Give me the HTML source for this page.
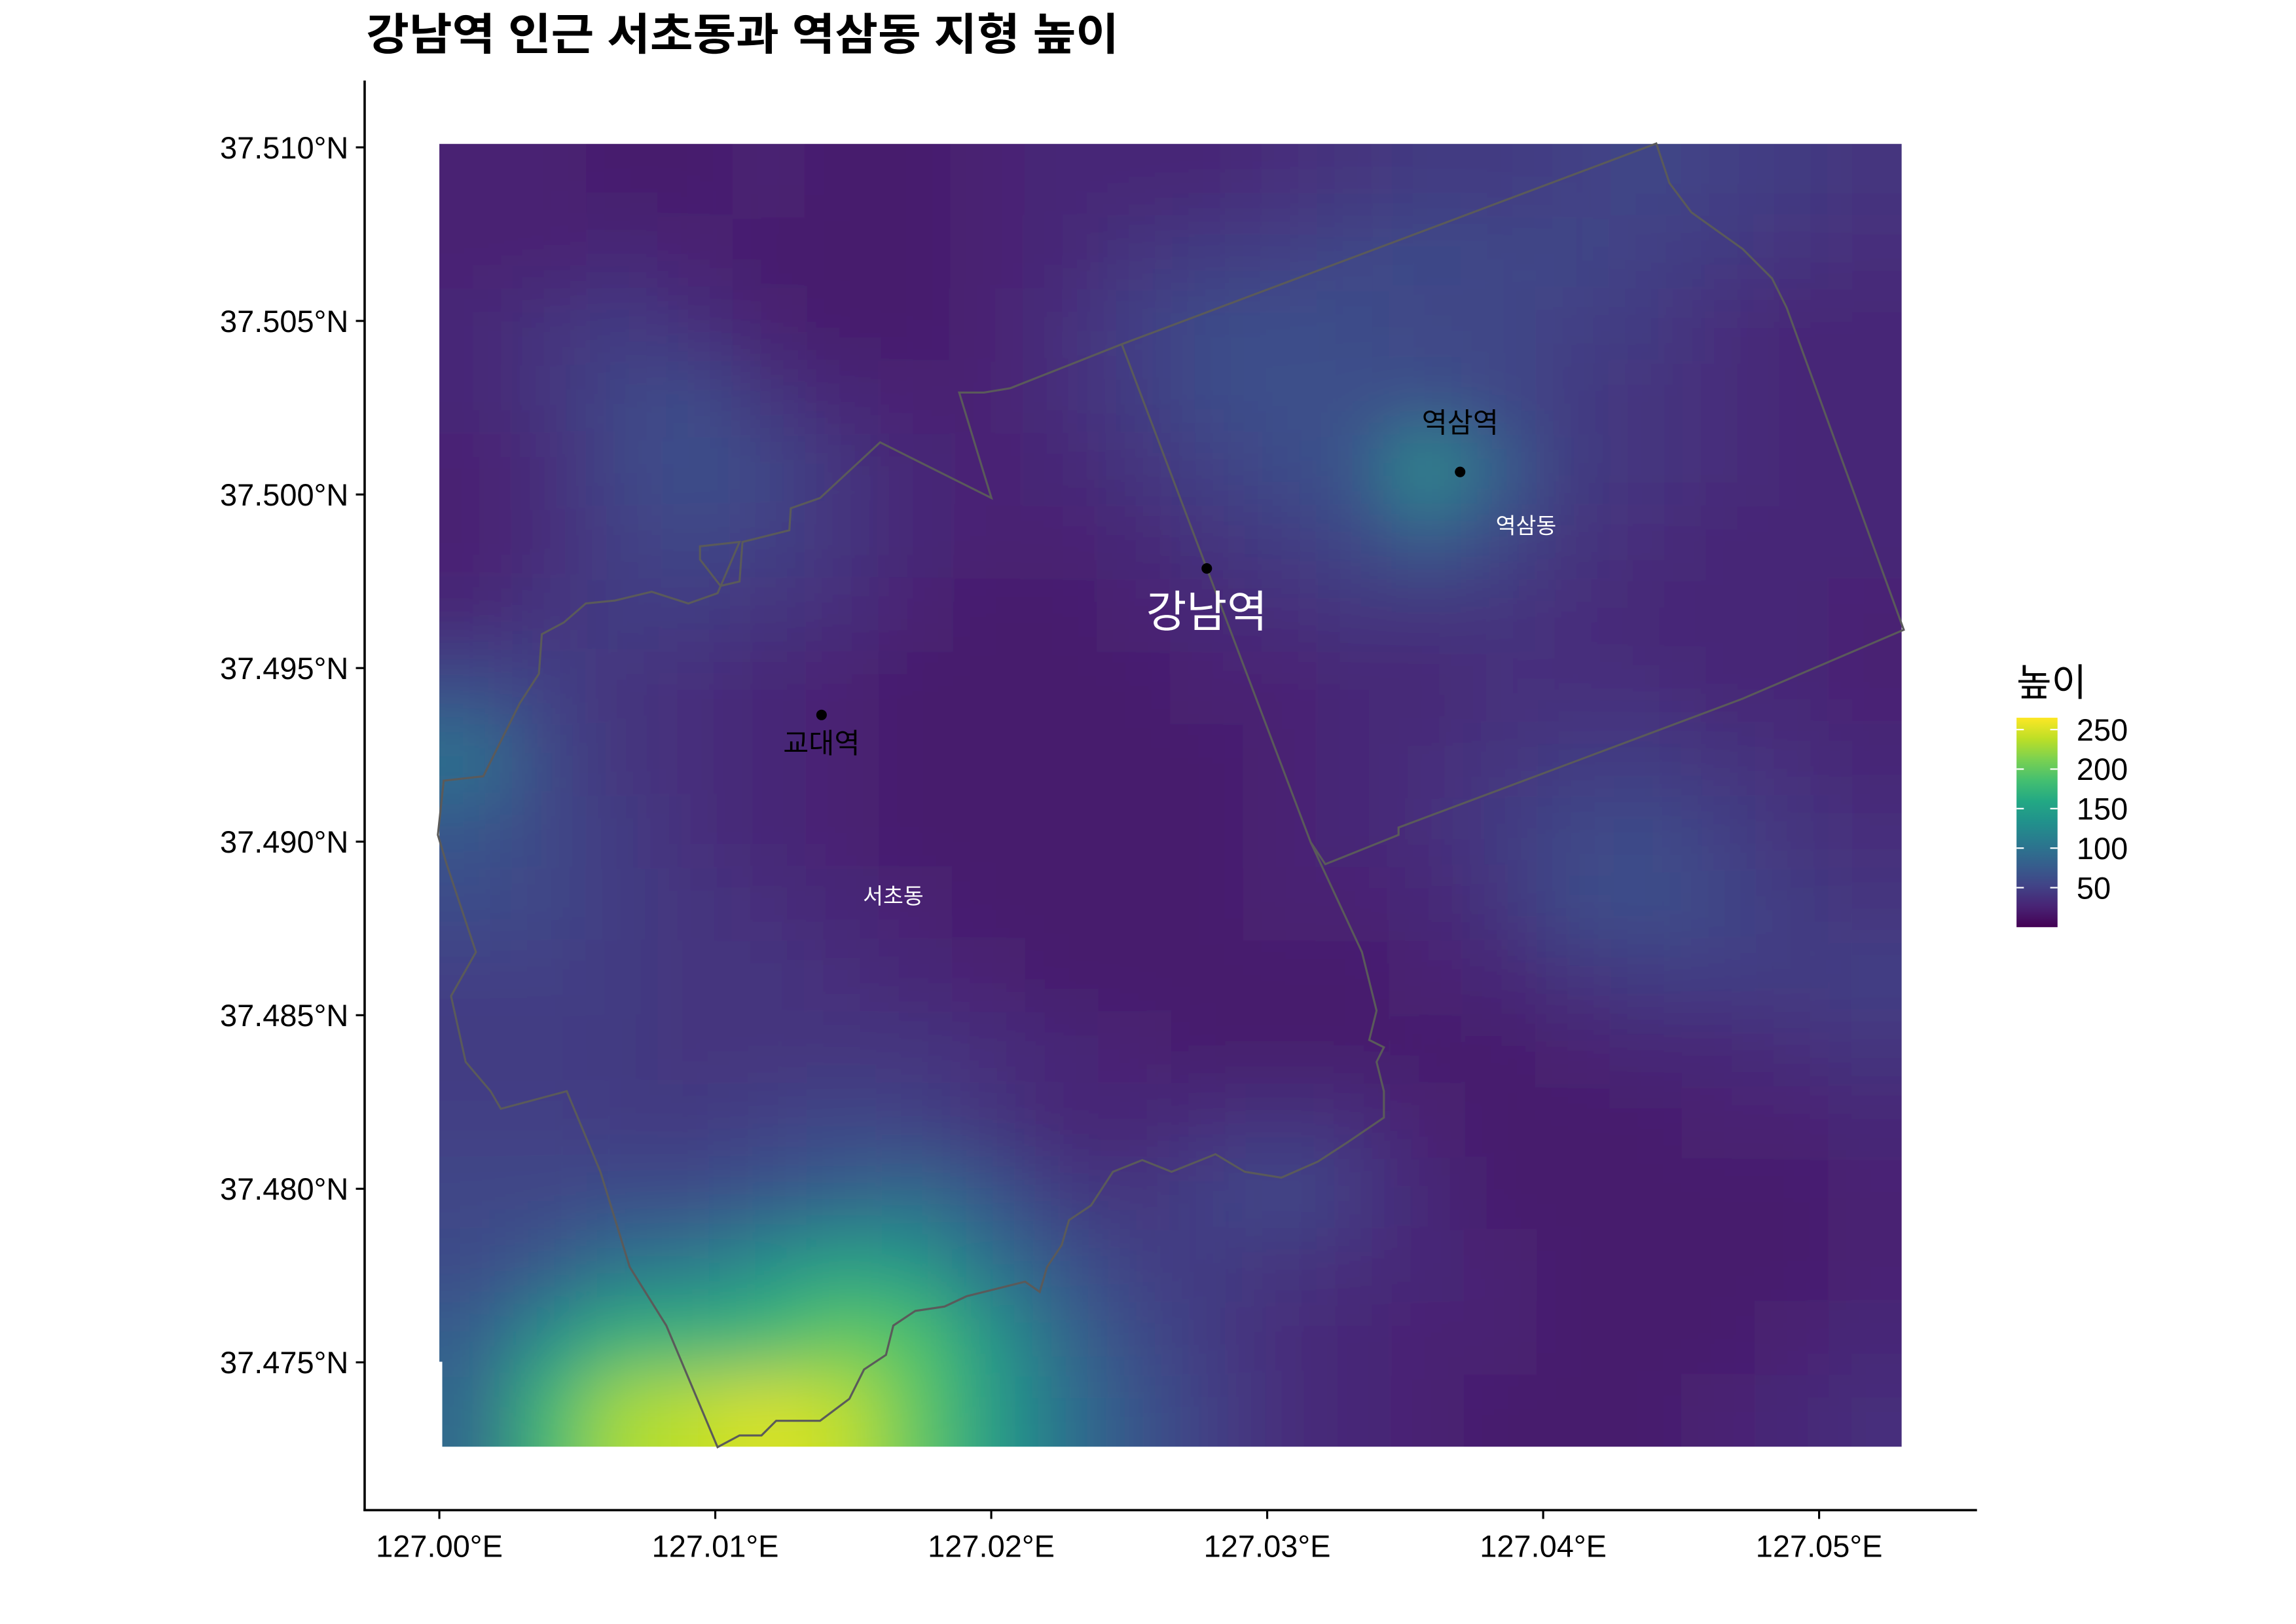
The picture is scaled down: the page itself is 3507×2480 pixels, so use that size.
<!DOCTYPE html>
<html><head><meta charset="utf-8">
<style>
html,body{margin:0;padding:0;background:#fff;}
svg{display:block;}
text{font-family:"Liberation Sans","Noto Sans CJK KR",sans-serif;}
</style></head>
<body>
<svg id="chart" width="3507" height="2480" viewBox="0 0 1560 1103.2" preserveAspectRatio="none" xmlns="http://www.w3.org/2000/svg">
<defs>
<filter id="blur" x="-10%" y="-10%" width="120%" height="120%"><feGaussianBlur stdDeviation="24" edgeMode="duplicate"/></filter>
<clipPath id="rasterClip"><path id="clipPath" d=""/></clipPath>
<linearGradient id="viridisGrad" x1="0" y1="1" x2="0" y2="0"></linearGradient>
</defs>
<rect width="1560" height="1103.2" fill="#fff"/>
<g transform="scale(0.995)">
<text x="250" y="34" font-size="30" font-weight="bold" fill="#000" textLength="514" lengthAdjust="spacingAndGlyphs">강남역 인근 서초동과 역삼동 지형 높이</text>
<g id="raster" clip-path="url(#rasterClip)"><g id="cells" filter="url(#blur)"></g></g>
<g id="bounds"></g>
<g id="points"></g>
<g id="axes"></g>
<g id="legend"></g>
</g>
</svg>
<script>
// ---- data ----
const lonMin = 127.0, lonMax = 127.05299, latMax = 37.5101, latMin = 37.47257;
const xTicks = [127.00, 127.01, 127.02, 127.03, 127.04, 127.05];
const xTickLabels = ["127.00°E","127.01°E","127.02°E","127.03°E","127.04°E","127.05°E"];
const yTicks = [37.510, 37.505, 37.500, 37.495, 37.490, 37.485, 37.480, 37.475];
const yTickLabels = ["37.510°N","37.505°N","37.500°N","37.495°N","37.490°N","37.485°N","37.480°N","37.475°N"];
const legendTicks = [250, 200, 150, 100, 50];
const elevation = [
[25,25,20,20,25,20,20,25,30,30,30,35,40,45,45,50,55,50,45,40],
[25,25,30,25,20,20,20,25,30,40,45,50,55,60,55,55,50,45,40,35],
[30,40,45,35,25,20,20,25,35,50,60,65,60,55,55,50,45,35,30,30],
[30,40,55,60,40,30,25,25,35,45,60,65,65,65,55,45,40,35,30,30],
[25,35,55,65,55,40,30,25,30,40,50,60,70,130,80,45,40,35,30,30],
[25,35,50,55,50,40,30,25,25,30,40,45,55,75,55,40,35,30,30,30],
[30,40,45,45,40,35,25,20,20,25,30,35,40,40,40,35,30,30,30,25],
[60,50,40,35,30,25,20,20,20,20,25,25,30,30,35,35,35,30,30,25],
[100,55,40,35,30,25,20,20,20,20,20,25,30,35,40,45,45,40,35,30],
[70,55,45,35,30,25,20,20,20,20,20,25,30,35,45,55,60,50,40,35],
[60,55,45,40,35,30,25,20,20,20,20,25,25,30,40,60,65,55,45,40],
[50,50,45,40,40,35,30,25,20,20,20,20,20,25,30,40,45,50,45,50],
[45,45,45,40,40,40,40,35,30,25,20,20,20,20,20,25,30,30,35,40],
[50,50,45,45,50,55,50,40,30,30,35,40,35,25,20,20,20,25,25,30],
[55,55,60,60,70,80,90,70,45,40,50,60,45,30,20,20,20,20,20,25],
[60,75,100,110,130,150,140,100,70,50,45,40,35,30,25,20,20,20,20,25],
[80,130,170,170,180,200,190,140,90,60,45,35,30,25,25,20,20,20,25,30],
[90,180,230,240,250,240,200,150,100,70,50,35,30,25,20,20,20,25,30,35]
];
const stationNames = ["강남역","역삼역","교대역"];
const stationLon = [127.02781, 127.03699, 127.01385];
const stationLat = [37.49787, 37.50065, 37.49365];
const dongNames = ["역삼동","서초동"];
const dongLon = [127.03938, 127.01645];
const dongLat = [37.49909, 37.48842];
// boundary outlines (reference-display units)
const yeoksamBoundary = [[766,235],[1131,98],[1140,125],[1155,145],[1190,170],[1210,190],[1220,210],[1300,430],[1190,477],[955,565],[955,570],[905,590],[895,575],[766,235]];
const seochoBoundary = [[766,235],[690,265],[672,268],[655,268],[677,340],[623,313],[601,302],[560,340],[540,347],[539,362],[507,370],[505,397],[492,400],[478,382],[478,373],[505,370],[490,405],[470,412],[445,404],[420,410],[400,412],[385,425],[370,433],[368,460],[355,480],[345,500],[330,530],[303,533],[299,570],[305,590],[315,620],[325,650],[308,680],[318,725],[335,745],[342,757],[387,745],[410,800],[430,865],[455,905],[490,988],[505,980],[520,980],[530,970],[560,970],[580,955],[590,935],[605,925],[610,905],[625,895],[645,892],[660,885],[680,880],[700,875],[710,882],[715,865],[725,850],[730,833],[745,823],[760,800],[780,792],[800,800],[830,788],[850,800],[875,804],[900,793],[920,780],[945,763],[945,745],[940,725],[945,715],[935,710],[940,690],[930,650],[895,575]];

// ---- scales ----
const X = lon => 300 + (lon - 127.0) * 18844;
const Y = lat => 100.6 + (37.510 - lat) * 23700;
const NS = "http://www.w3.org/2000/svg";
const vStops = ["#440154","#482475","#414487","#355f8d","#2a788e","#21918c","#22a884","#44bf70","#7ad151","#bddf26","#fde725"];
const vMin = 0, vMax = 265;
function hex(c){return [1,3,5].map(i=>parseInt(c.substr(i,2),16));}
function viridis(v){
  let t = Math.max(0, Math.min(1, (v - vMin) / (vMax - vMin))) * 10;
  let i = Math.min(9, Math.floor(t)), f = t - i;
  let a = hex(vStops[i]), b = hex(vStops[i+1]);
  return "rgb(" + a.map((c,k)=>Math.round(c + (b[k]-c)*f)).join(",") + ")";
}
function el(tag, attrs, parent){const e=document.createElementNS(NS,tag);for(const k in attrs)e.setAttribute(k,attrs[k]);parent.appendChild(e);return e;}

// raster
const rx0 = X(lonMin), rx1 = X(lonMax), ry0 = Y(latMax), ry1 = Y(latMin);
document.getElementById("clipPath").setAttribute("d",
  `M${rx0},${ry0}H${rx1}V${ry1}H${rx0+2}V${ry1-58}H${rx0}Z`);
const cells = document.getElementById("cells");
const nr = elevation.length, nc = elevation[0].length;
const cw = (rx1 - rx0) / nc, ch = (ry1 - ry0) / nr;
for (let r = 0; r < nr; r++) for (let c = 0; c < nc; c++) {
  const x = rx0 + c*cw - (c===0?60:0), y = ry0 + r*ch - (r===0?60:0);
  const w = cw + 0.8 + (c===0?60:0) + (c===nc-1?60:0), h = ch + 0.8 + (r===0?60:0) + (r===nr-1?60:0);
  const cell = el("rect", {x, y, width:w, height:h, fill:viridis(elevation[r][c])}, cells);
  
  
}

// boundaries
const bounds = document.getElementById("bounds");
const b1 = el("polyline", {points: yeoksamBoundary.map(p=>p.join(",")).join(" "), fill:"none", stroke:"#5a5a5a", "stroke-width":1.4}, bounds);


const b2 = el("polyline", {points: seochoBoundary.map(p=>p.join(",")).join(" "), fill:"none", stroke:"#5a5a5a", "stroke-width":1.4}, bounds);



// stations
const pts = document.getElementById("points");
const labelStyles = [
  {dy:40, size:30, fill:"#fff"},
  {dy:-27, size:19, fill:"#000"},
  {dy:26, size:19, fill:"#000"}
];
stationNames.forEach((n,i)=>{
  const cx = X(stationLon[i]), cy = Y(stationLat[i]);
  const dot = el("circle", {cx, cy, r:3.6, fill:"#000"}, pts);
  
  
  const t = el("text", {x:cx, y:cy+labelStyles[i].dy, "text-anchor":"middle", "font-size":labelStyles[i].size, fill:labelStyles[i].fill}, pts);
  t.textContent = n;
  
  
});
dongNames.forEach((n,i)=>{
  const t = el("text", {x:X(dongLon[i]), y:Y(dongLat[i])+5, "text-anchor":"middle", "font-size":15, fill:"#fff"}, pts);
  t.textContent = n;
  
  
});

// axes
const ax = document.getElementById("axes");
const yl = el("line", {x1:249, y1:55, x2:249, y2:1031.5, stroke:"#000", "stroke-width":1.6}, ax);


const xl = el("line", {x1:248.2, y1:1031, x2:1350, y2:1031, stroke:"#000", "stroke-width":1.6}, ax);


xTicks.forEach((v,i)=>{
  const x = X(v);
  const tk = el("line", {x1:x, y1:1031, x2:x, y2:1037, stroke:"#000", "stroke-width":1.4}, ax);
  
  
  const t = el("text", {x, y:1063, "text-anchor":"middle", "font-size":21, fill:"#000"}, ax);
  t.textContent = xTickLabels[i];
  
  
});
yTicks.forEach((v,i)=>{
  const y = Y(v);
  const tk = el("line", {x1:243, y1:y, x2:249, y2:y, stroke:"#000", "stroke-width":1.4}, ax);
  
  
  const t = el("text", {x:238, y:y+7.5, "text-anchor":"end", "font-size":21, fill:"#000"}, ax);
  t.textContent = yTickLabels[i];
  
  
});

// legend
const lg = document.getElementById("legend");
const grad = document.getElementById("viridisGrad");
vStops.forEach((c,i)=>el("stop", {offset:(i*10)+"%", "stop-color":c}, grad));
const LY = v => 633 - (v - vMin) / (vMax - vMin) * 143;
const lt = el("text", {x:1377, y:475, "font-size":26, fill:"#000"}, lg);
lt.textContent = "높이";


const bar = el("rect", {x:1377, y:490, width:28, height:143, fill:"url(#viridisGrad)"}, lg);


legendTicks.forEach(v=>{
  const y = LY(v);
  const a = el("line", {x1:1377, y1:y, x2:1382, y2:y, stroke:"#fff", "stroke-width":1}, lg);
  
  
  const b = el("line", {x1:1400, y1:y, x2:1405, y2:y, stroke:"#fff", "stroke-width":1}, lg);
  
  
  const t = el("text", {x:1418, y:y+7.5, "font-size":21, fill:"#000"}, lg);
  t.textContent = v;
  
  
});
</script>
</body></html>
